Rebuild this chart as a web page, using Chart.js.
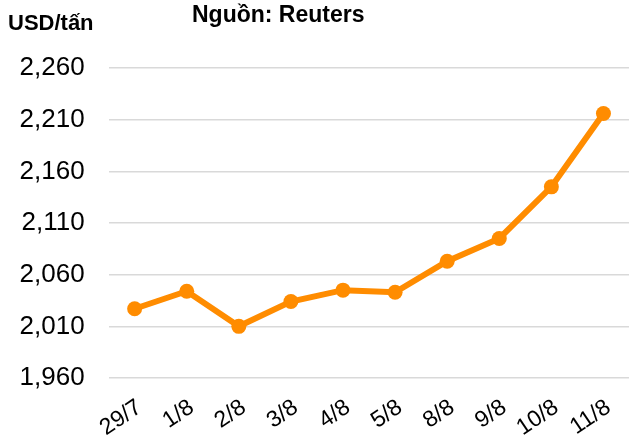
<!DOCTYPE html>
<html>
<head>
<meta charset="utf-8">
<script src="https://cdn.jsdelivr.net/npm/chart.js@4/dist/chart.umd.min.js"></script>
<style>
  html, body { margin: 0; padding: 0; background: #fff; overflow: hidden; }
  #wrap { position: relative; width: 629px; height: 438px; overflow: hidden; }
  #chart { position: absolute; left: 0; top: 0; }
  .lbl { position: absolute; font-family: "Liberation Sans", Arial, sans-serif; font-weight: bold; color: #000; white-space: nowrap; }
  #unit { left: 8px; top: 10px; font-size: 22px; }
  #source { left: 192px; top: 1px; font-size: 23px; }
</style>
</head>
<body>
<div id="wrap">
  <canvas id="chart" width="637" height="438"></canvas>
  <div class="lbl" id="unit">USD/tấn</div>
  <div class="lbl" id="source">Nguồn: Reuters</div>
</div>
<script>
// dates on the x axis
const categories = ['29/7', '1/8', '2/8', '3/8', '4/8', '5/8', '8/8', '9/8', '10/8', '11/8']
// price, USD per tonne
const prices = [2027, 2044, 2010, 2034, 2045, 2043, 2073, 2095, 2145, 2216]
const y_min = 1960
const y_max = 2260
const y_step = 50

const orange = '#FF8C00'
const font_family = '"Liberation Sans", Arial, sans-serif'

const ctx = document.getElementById('chart').getContext('2d')
new Chart(ctx, {
    type: 'line',
    data: {
        labels: categories,
        datasets: [{
            data: prices,
            borderColor: orange,
            backgroundColor: orange,
            borderWidth: 6,
            pointRadius: 7.5,
            pointHoverRadius: 7.5,
            pointBackgroundColor: orange,
            pointBorderWidth: 0,
            tension: 0
        }]
    },
    options: {
        responsive: false,
        devicePixelRatio: 1,
        animation: false,
        layout: { padding: { top: 68, left: 0, right: 0, bottom: 0 } },
        plugins: {
            legend: { display: false },
            title: { display: false },
            tooltip: { enabled: false }
        },
        scales: {
            x: {
                offset: true,
                grid: { display: false, drawTicks: false },
                border: { display: false },
                ticks: {
                    autoSkip: false,
                    minRotation: 34,
                    maxRotation: 34,
                    padding: 16,
                    labelOffset: 5,
                    color: '#000',
                    font: { family: font_family, size: 23 }
                },
                afterFit: (scale) => { scale.height = 60 }
            },
            y: {
                min: y_min,
                max: y_max,
                grid: { color: '#d9d9d9', lineWidth: 1.5, drawTicks: false },
                border: { display: false },
                ticks: {
                    stepSize: y_step,
                    padding: 24,
                    color: '#000',
                    font: { family: font_family, size: 26 },
                    callback: (v) => v.toLocaleString('en-US')
                },
                afterFit: (scale) => { scale.width = 108.6 }
            }
        }
    }
})
</script>
</body>
</html>
